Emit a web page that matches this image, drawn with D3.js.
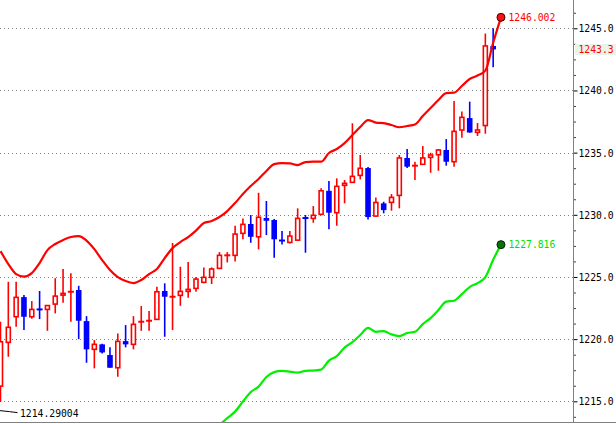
<!DOCTYPE html>
<html><head><meta charset="utf-8">
<script src="https://cdn.jsdelivr.net/npm/d3@7"></script>
<style>body{margin:0;background:#fff}svg{display:block}</style>
</head><body>
<script>
// ---- data ----
const openP  = [1216.22,1219.74,1221.80,1223.38,1221.80,1222.42,1222.39,1222.82,1223.54,1223.78,1223.95,1221.45,1219.18,1219.58,1218.72,1217.70,1219.84,1219.58,1221.38,1221.46,1221.59,1223.87,1223.38,1223.52,1223.84,1224.08,1224.57,1224.97,1225.69,1226.72,1226.74,1228.51,1229.26,1228.23,1229.74,1229.58,1227.96,1227.78,1227.96,1229.76,1229.71,1230.04,1231.93,1230.17,1232.37,1232.61,1233.17,1233.76,1229.90,1230.92,1231.00,1231.56,1234.57,1233.93,1234.06,1234.62,1234.83,1235.21,1234.27,1236.82,1237.78,1236.63,1237.18,1243.58];
const highP  = [1221.40,1224.61,1224.61,1223.54,1223.06,1223.87,1222.70,1224.90,1225.64,1225.29,1224.29,1221.85,1219.92,1219.63,1219.34,1220.46,1221.13,1221.85,1222.66,1222.26,1224.21,1224.49,1227.73,1225.82,1226.20,1225.00,1225.77,1225.77,1227.00,1227.00,1229.12,1229.71,1229.98,1231.77,1231.11,1229.66,1228.69,1228.69,1230.52,1229.98,1230.70,1232.13,1232.71,1232.93,1232.80,1237.36,1234.81,1233.84,1231.40,1231.05,1231.67,1234.81,1235.29,1234.27,1235.53,1234.99,1235.29,1236.09,1239.15,1238.30,1239.10,1237.38,1244.58,1245.00];
const lowP   = [1214.95,1218.58,1220.99,1220.73,1221.64,1221.61,1220.67,1222.07,1222.92,1221.40,1220.00,1218.10,1217.65,1218.85,1217.70,1216.97,1219.34,1219.18,1220.67,1220.67,1221.59,1220.19,1220.73,1222.68,1223.33,1223.81,1224.49,1224.43,1225.69,1226.17,1226.25,1228.03,1227.75,1227.22,1228.37,1226.54,1227.62,1227.70,1227.96,1226.95,1229.36,1229.96,1228.83,1229.12,1230.92,1232.61,1232.85,1229.63,1229.85,1230.12,1230.33,1230.52,1233.76,1232.80,1234.06,1233.38,1233.54,1233.95,1233.87,1236.20,1236.60,1236.34,1236.52,1241.86];
const closeP = [1219.79,1220.95,1223.36,1221.80,1222.39,1222.36,1222.70,1223.46,1223.68,1223.84,1221.48,1219.18,1219.58,1218.93,1217.70,1219.82,1219.58,1221.19,1221.42,1221.50,1223.81,1223.41,1223.44,1223.84,1224.00,1224.83,1224.97,1225.64,1226.74,1226.76,1228.45,1229.23,1228.23,1229.80,1229.52,1228.03,1227.90,1228.29,1229.71,1229.72,1229.96,1231.93,1230.17,1232.29,1232.53,1233.09,1233.74,1229.82,1230.99,1230.38,1231.40,1234.57,1233.87,1233.97,1234.57,1234.81,1235.21,1234.27,1236.71,1237.84,1236.62,1236.82,1243.58,1243.30];
const upperBand = [1227.08,1226.04,1225.23,1225.03,1225.31,1226.12,1227.16,1227.65,1227.97,1228.21,1228.29,1227.93,1227.24,1226.36,1225.56,1224.99,1224.67,1224.51,1224.75,1225.23,1225.64,1226.52,1227.32,1227.81,1228.21,1228.73,1229.34,1229.50,1229.82,1230.30,1230.95,1231.67,1232.31,1232.88,1233.52,1234.08,1234.16,1234.14,1234.00,1234.24,1234.27,1234.27,1234.97,1235.29,1235.77,1236.42,1237.06,1237.62,1237.42,1237.38,1237.22,1237.04,1237.14,1237.26,1237.94,1238.59,1239.23,1239.79,1239.82,1240.36,1240.92,1241.20,1241.60,1243.84,1245.88];
const lowerBand = [null,null,null,null,null,null,null,null,null,null,null,null,null,null,null,null,null,null,null,null,null,null,null,null,null,null,null,null,1213.09,1213.65,1214.17,1214.98,1215.74,1216.18,1216.95,1217.35,1217.45,1217.39,1217.31,1217.45,1217.47,1217.55,1218.27,1218.64,1219.32,1219.76,1220.33,1220.91,1220.59,1220.65,1220.38,1220.25,1220.49,1220.59,1221.21,1221.69,1222.34,1223.02,1223.09,1223.62,1224.19,1224.51,1224.99,1226.38,1227.60];
const majorTicks = [1215,1220,1225,1230,1235,1240,1245];
const minorTicks = [1213.75,1216.25,1217.5,1218.75,1221.25,1222.5,1223.75,1226.25,1227.5,1228.75,1231.25,1232.5,1233.75,1236.25,1237.5,1238.75,1241.25,1242.5,1243.75,1246.25];
const upperLabel = "1246.002";
const lowerLabel = "1227.816";
const currentPrice = 1243.3;
const currentLabel = "1243.3";
const lowMarkValue = 1214.29004;
const lowMarkLabel = "1214.29004";

// ---- drawing ----
const W = 616, H = 424, plotRight = 573, plotBottom = 422;
const FONT = "'DejaVu Sans Mono', 'Liberation Mono', monospace";
const SX = 0.885; // horizontal squeeze of the monospace font
const svg = d3.select("body").append("svg").attr("width", W).attr("height", H);

const x = d3.scaleLinear().domain([0, upperBand.length - 1]).range([0.5, 0.5 + 7.82 * (upperBand.length - 1)]);
const y = d3.scaleLinear().domain([1215, 1245]).range([401.3, 28.3]);

svg.append("clipPath").attr("id", "clip").append("rect")
  .attr("x", 0).attr("y", 0).attr("width", plotRight).attr("height", plotBottom);
const g = svg.append("g").attr("clip-path", "url(#clip)");

// dotted grid
g.selectAll("line.grid").data(majorTicks).join("line").attr("class", "grid")
  .attr("x1", 0).attr("x2", plotRight)
  .attr("y1", d => Math.round(y(d)) + 0.5).attr("y2", d => Math.round(y(d)) + 0.5)
  .attr("stroke", "#808080").attr("stroke-width", 1).attr("stroke-dasharray", "1,3");

// candles
const bars = d3.range(openP.length).map(i => ({ i, o: openP[i], h: highP[i], l: lowP[i], c: closeP[i] }));
const cg = g.append("g");
bars.forEach(b => {
  const cx = x(b.i);
  const up = b.c >= b.o;
  const col = up ? "#ff0000" : "#0000ff";
  const yo = y(b.o), yc = y(b.c);
  const top = Math.min(yo, yc), bot = Math.max(yo, yc);
  cg.append("line").attr("x1", cx).attr("x2", cx).attr("y1", y(b.h)).attr("y2", y(b.l))
    .attr("stroke", col).attr("stroke-width", 1.6);
  if (bot - top < 1.5) {
    cg.append("line").attr("x1", cx - 3).attr("x2", cx + 3)
      .attr("y1", (top + bot) / 2).attr("y2", (top + bot) / 2)
      .attr("stroke", col).attr("stroke-width", 2);
  } else if (up) {
    cg.append("rect").attr("x", cx - 2).attr("y", top).attr("width", 4).attr("height", bot - top)
      .attr("fill", "#fff").attr("stroke", col).attr("stroke-width", 1.6);
  } else {
    cg.append("rect").attr("x", cx - 2.8).attr("y", top).attr("width", 5.6).attr("height", bot - top)
      .attr("fill", col);
  }
});

// band lines
const lineGen = d3.line().defined(d => d != null).x((d, i) => x(i)).y(d => y(d)).curve(d3.curveMonotoneX);
g.append("path").datum(upperBand).attr("d", lineGen).attr("fill", "none")
  .attr("stroke", "#ff0000").attr("stroke-width", 2.2);
g.append("path").datum(lowerBand).attr("d", lineGen).attr("fill", "none")
  .attr("stroke", "#00f000").attr("stroke-width", 2.2);

// end dots
const last = upperBand.length - 1;
g.append("circle").attr("cx", x(last)).attr("cy", y(upperBand[last])).attr("r", 4)
  .attr("fill", "#ff1010").attr("stroke", "#400000").attr("stroke-width", 1);
g.append("circle").attr("cx", x(last)).attr("cy", y(lowerBand[last])).attr("r", 4)
  .attr("fill", "#0a700a").attr("stroke", "#002000").attr("stroke-width", 1);

function label(sel, txt, tx, ty, col) {
  return sel.append("text")
    .attr("transform", `translate(${tx},${ty}) scale(${SX},1)`)
    .attr("dy", "0.35em")
    .attr("fill", col).attr("font-family", FONT).attr("font-size", 11).text(txt);
}
label(svg, upperLabel, x(last) + 7.5, y(upperBand[last]), "#ff0000");
label(svg, lowerLabel, x(last) + 7.5, y(lowerBand[last]), "#00e000");

// low marker
g.append("path").attr("d", d3.line()([[x(0) - 0.5, y(lowMarkValue) + 0.5], [x(0) + 9, y(lowMarkValue) + 1.5], [x(0) + 17, y(lowMarkValue) + 2.5]]))
  .attr("fill", "none").attr("stroke", "#000").attr("stroke-width", 1);
label(svg, lowMarkLabel, 20, y(lowMarkValue) + 3.5, "#000");

// right axis
const axG = svg.append("g").attr("transform", `translate(${plotRight + 0.5},0)`);
axG.call(d3.axisRight(y).tickValues(majorTicks).tickSize(4).tickPadding(1).tickFormat(d => d.toFixed(1)));
axG.select(".domain").remove();
axG.selectAll(".tick line").attr("stroke", "#000");
axG.selectAll(".tick text").attr("font-family", FONT).attr("font-size", 11).attr("fill", "#000")
  .attr("x", 5 / SX).attr("transform", `scale(${SX},1)`);
const mnG = svg.append("g").attr("transform", `translate(${plotRight + 1},0)`);
mnG.call(d3.axisRight(y).tickValues(minorTicks).tickSize(2).tickFormat(""));
mnG.select(".domain").remove();
mnG.selectAll(".tick line").attr("stroke", "#404040");

// current price tag
svg.append("rect").attr("x", 575).attr("y", y(currentPrice) - 5.5).attr("width", 41).attr("height", 11)
  .attr("fill", "#e8f4e8");
label(svg, currentLabel, 578.5, y(currentPrice), "#ff0000");

// frame
svg.append("line").attr("x1", plotRight + 0.5).attr("x2", plotRight + 0.5).attr("y1", 0).attr("y2", plotBottom + 0.5)
  .attr("stroke", "#808080").attr("stroke-width", 1);
svg.append("line").attr("x1", 0).attr("x2", W).attr("y1", plotBottom + 0.5).attr("y2", plotBottom + 0.5)
  .attr("stroke", "#808080").attr("stroke-width", 1);
</script>
</body></html>
